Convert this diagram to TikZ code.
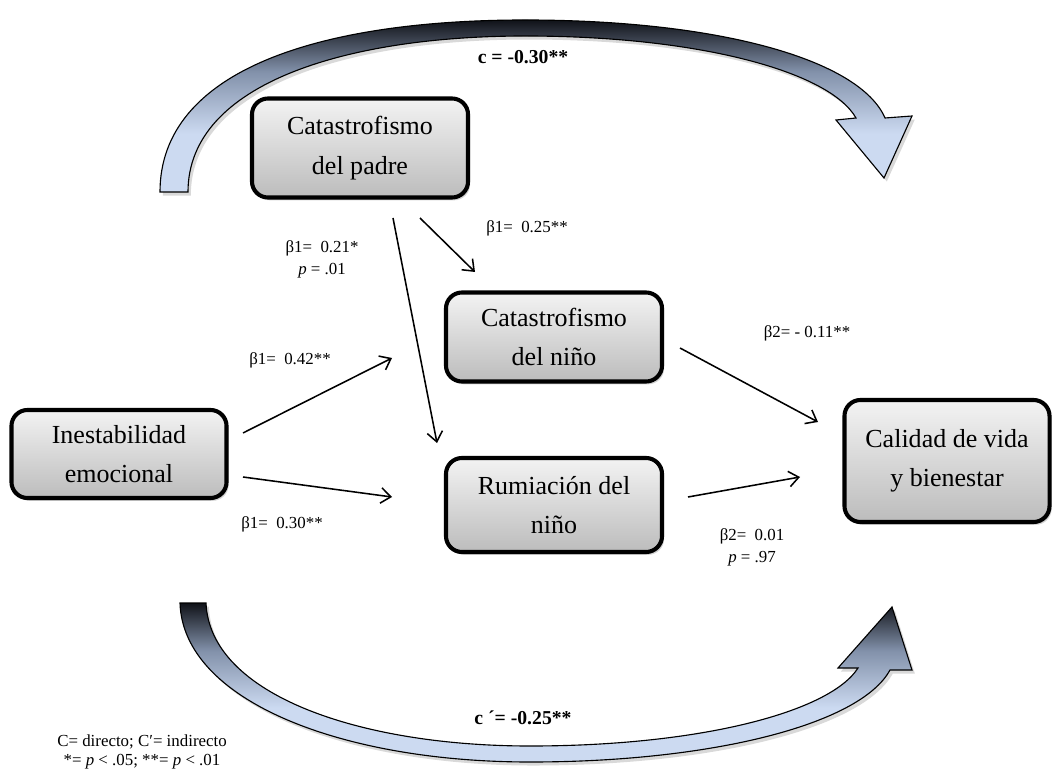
\documentclass[tikz,border=0pt]{standalone}
\usepackage{fontspec}
\setmainfont{Liberation Serif}
\usetikzlibrary{shadows,arrows.meta}
\definecolor{cintaclara}{RGB}{204,218,241}
\definecolor{cintamedia}{RGB}{130,145,170}
\definecolor{cintaoscura}{RGB}{16,18,24}
\definecolor{cajaclara}{RGB}{243,243,243}
\definecolor{cajaoscura}{RGB}{188,188,188}
\pgfdeclareverticalshading{cintatono}{100bp}{color(0bp)=(cintaclara); color(25bp)=(cintaclara); color(42bp)=(cintaclara);
	color(60bp)=(cintamedia); color(75bp)=(cintaoscura); color(100bp)=(cintaoscura)}

\tikzset{
	caja/.style={draw=black, line width=2.9pt, rounded corners=0.4cm, top color=cajaclara, bottom color=cajaoscura,
		align=center, font=\fontsize{18.5}{28}\selectfont, minimum width=5.4cm,
		drop shadow={opacity=0.35, shadow xshift=1.5pt, shadow yshift=-2pt}},
	coef/.style={font=\fontsize{12}{15.5}\selectfont, align=center},
	flecha/.style={->, line width=1.1pt},
	cinta/.style={draw=black, line width=0.8pt, shading=cintatono,
		drop shadow={opacity=0.3, shadow xshift=2pt, shadow yshift=-2.5pt}}
}

\begin{document}
\begin{tikzpicture}[x=0.025cm, y=-0.025cm, >={Straight Barb[length=7pt,width=11pt]}]
	\useasboundingbox (0,0) rectangle (1052,780);
	% efecto total y efecto indirecto
	\path[cinta] (160,192) .. controls (160,70) and (320,20) .. (525,20) .. controls (720,20) and (860,60) .. (885,118)
		-- (912,116) -- (884,178) -- (836,120) -- (856,118)
		.. controls (830,72) and (700,36) .. (525,36) .. controls (350,36) and (188,82) .. (188,192) -- cycle;
	\path[cinta] (180,603) .. controls (183,700) and (340,762) .. (530,762) .. controls (710,762) and (860,725) .. (890,670)
		-- (912,670) -- (892,607) -- (838,668) -- (858,668)
		.. controls (830,712) and (700,746) .. (530,746) .. controls (360,746) and (210,695) .. (206,603) -- cycle;
	\node (ctot) at (523,57){\fontsize{14}{16}\selectfont\bfseries c = -0.30**};
	\node (cind) at (523,718){\fontsize{14}{16}\selectfont\bfseries c ´= -0.25**};

	% variables
	\node[caja, minimum height=2.475cm] (padre) at (360,148){Catastrofismo\\del padre};
	\node[caja, minimum height=2.225cm] (catnino) at (554,337){Catastrofismo\\del niño};
	\node[caja, minimum width=5.375cm, minimum height=2.2cm] (inest) at (119,454){Inestabilidad\\emocional};
	\node[caja, minimum height=2.35cm] (rumia) at (554,505){Rumiación del\\niño};
	\node[caja, minimum width=5.125cm, minimum height=3.05cm] (calidad) at (947,461){Calidad de vida\\y bienestar};

	% extremos de las flechas
	\coordinate (pc1) at (420,218); \coordinate (pc2) at (475,272);
	\coordinate (pr1) at (393,218); \coordinate (pr2) at (437,443);
	\coordinate (ic1) at (243,433); \coordinate (ic2) at (392,358);
	\coordinate (ir1) at (243,477); \coordinate (ir2) at (392,497);
	\coordinate (cc1) at (680,348); \coordinate (cc2) at (818,422);
	\coordinate (rc1) at (688,497); \coordinate (rc2) at (800,477);
	\draw[flecha] (pc1)--(pc2);
	\draw[flecha] (pr1)--(pr2);
	\draw[flecha] (ic1)--(ic2);
	\draw[flecha] (ir1)--(ir2);
	\draw[flecha] (cc1)--(cc2);
	\draw[flecha] (rc1)--(rc2);

	% coeficientes
	\node[coef] (bpc) at (527,228){β1=~~0.25**};
	\node[coef] (bpr) at (322,259){β1=~~0.21*\\\textit{p} = .01};
	\node[coef] (bic) at (290,360){β1=~~0.42**};
	\node[coef] (bir) at (282,524){β1=~~0.30**};
	\node[coef] (bcc) at (807,333){β2= - 0.11**};
	\node[coef] (brc) at (752,547){β2=~~0.01\\\textit{p} = .97};
	\node[coef, font=\fontsize{12}{14}\selectfont] (leyenda) at (142,752){C= directo; C′= indirecto\\*= \textit{p} < .05; **= \textit{p} < .01};
\end{tikzpicture}
\end{document}
